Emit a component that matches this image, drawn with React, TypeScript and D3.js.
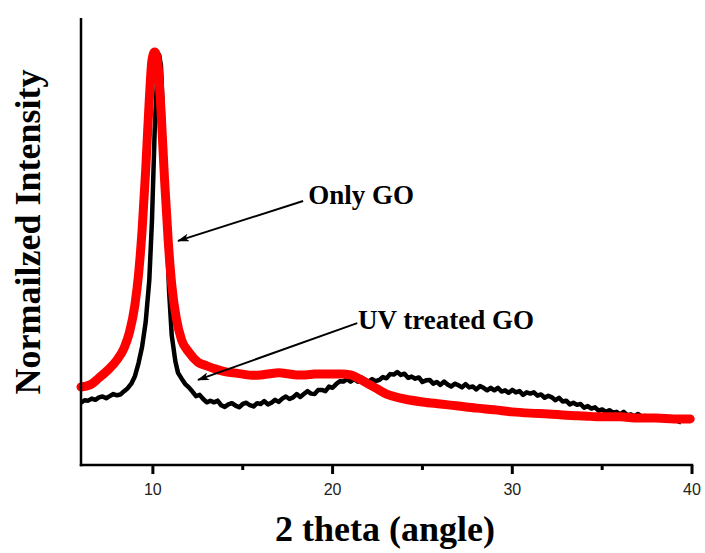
import * as d3 from "d3";

// 2 theta (deg) / normalized intensity
const uvTheta = [
  6.0, 6.2, 6.4, 6.6, 6.8, 7.0, 7.2, 7.4, 7.6, 7.8, 8.0, 8.2, 8.4, 8.6, 8.8, 9.0,
  9.2, 9.4, 9.6, 9.8, 9.95, 10.1, 10.25, 10.35, 10.45, 10.6, 10.75, 10.9, 11.05,
  11.25, 11.4, 11.6, 11.8, 12.0, 12.2, 12.4, 12.6, 12.8, 13.0, 13.2, 13.4, 13.6,
  13.8, 14.0, 14.2, 14.4, 14.6, 14.8, 15.0, 15.2, 15.4, 15.6, 15.8, 16.0, 16.2,
  16.4, 16.6, 16.8, 17.0, 17.2, 17.4, 17.6, 17.8, 18.0, 18.2, 18.4, 18.6, 18.8,
  19.0, 19.2, 19.4, 19.6, 19.8, 20.0, 20.2, 20.4, 20.6, 20.8, 21.0, 21.2, 21.4,
  21.6, 21.8, 22.0, 22.2, 22.4, 22.6, 22.8, 23.0, 23.2, 23.4, 23.6, 23.8, 24.0,
  24.2, 24.4, 24.6, 24.8, 25.0, 25.2, 25.4, 25.6, 25.8, 26.0, 26.2, 26.4, 26.6,
  26.8, 27.0, 27.2, 27.4, 27.6, 27.8, 28.0, 28.2, 28.4, 28.6, 28.8, 29.0, 29.2,
  29.4, 29.6, 29.8, 30.0, 30.2, 30.4, 30.6, 30.8, 31.0, 31.2, 31.4, 31.6, 31.8,
  32.0, 32.2, 32.4, 32.6, 32.8, 33.0, 33.2, 33.4, 33.6, 33.8, 34.0, 34.2, 34.4,
  34.6, 34.8, 35.0, 35.2, 35.4, 35.6, 35.8, 36.0, 36.2, 36.4, 36.6, 36.8, 37.0,
  37.2, 37.4, 37.6, 37.8, 38.0, 38.2, 38.4, 38.6, 38.8, 39.0, 39.2, 39.4,
];
const uvIntensity = [
  0.150, 0.156, 0.155, 0.160, 0.157, 0.163, 0.165, 0.161, 0.166, 0.171, 0.168,
  0.170, 0.178, 0.185, 0.196, 0.214, 0.245, 0.285, 0.345, 0.445, 0.590, 0.805,
  0.950, 0.988, 0.962, 0.805, 0.590, 0.420, 0.312, 0.250, 0.222, 0.208, 0.195,
  0.187, 0.177, 0.166, 0.169, 0.159, 0.151, 0.155, 0.151, 0.155, 0.144, 0.140,
  0.146, 0.149, 0.143, 0.139, 0.147, 0.150, 0.144, 0.141, 0.149, 0.147, 0.154,
  0.146, 0.150, 0.157, 0.152, 0.160, 0.165, 0.159, 0.163, 0.171, 0.164, 0.171,
  0.178, 0.172, 0.171, 0.181, 0.181, 0.178, 0.189, 0.186, 0.195, 0.202, 0.201,
  0.207, 0.201, 0.207, 0.201, 0.211, 0.206, 0.201, 0.207, 0.202, 0.205, 0.212,
  0.209, 0.219, 0.218, 0.224, 0.217, 0.220, 0.210, 0.213, 0.208, 0.211, 0.200,
  0.204, 0.205, 0.196, 0.200, 0.193, 0.201, 0.194, 0.189, 0.196, 0.192, 0.187,
  0.195, 0.187, 0.189, 0.182, 0.190, 0.186, 0.180, 0.186, 0.180, 0.186, 0.177,
  0.180, 0.174, 0.181, 0.175, 0.178, 0.169, 0.175, 0.172, 0.175, 0.167, 0.170,
  0.162, 0.167, 0.163, 0.156, 0.162, 0.153, 0.155, 0.146, 0.150, 0.145, 0.147,
  0.138, 0.142, 0.136, 0.139, 0.131, 0.134, 0.128, 0.132, 0.126, 0.128, 0.122,
  0.128, 0.120, 0.122, 0.117, 0.123, 0.116, 0.118, 0.113, 0.117, 0.113, 0.116,
  0.112, 0.115, 0.109, 0.112, 0.106, 0.103,
];

const goTheta = [
  6.0, 6.5, 7.0, 7.5, 8.0, 8.4, 8.7, 9.0, 9.2, 9.4, 9.6, 9.8, 9.95, 10.1, 10.25,
  10.45, 10.65, 10.85, 11.05, 11.3, 11.6, 12.0, 12.5, 13.0, 13.5, 14.0, 14.5,
  15.0, 15.5, 16.0, 16.5, 17.0, 17.5, 18.0, 18.5, 19.0, 19.5, 20.0, 20.5, 21.0,
  21.5, 22.0, 22.5, 23.0, 23.5, 24.0, 25.0, 26.0, 27.0, 28.0, 29.0, 30.0, 31.0,
  32.0, 33.0, 34.0, 35.0, 36.0, 37.0, 38.0, 39.0, 39.9,
];
const goIntensity = [
  0.188, 0.193, 0.210, 0.229, 0.253, 0.282, 0.320, 0.386, 0.458, 0.566, 0.711,
  0.880, 0.976, 0.995, 0.976, 0.855, 0.687, 0.542, 0.434, 0.354, 0.301, 0.272,
  0.248, 0.239, 0.231, 0.225, 0.222, 0.219, 0.216, 0.217, 0.220, 0.222, 0.220,
  0.217, 0.217, 0.219, 0.219, 0.219, 0.219, 0.217, 0.207, 0.195, 0.183, 0.171,
  0.164, 0.159, 0.152, 0.147, 0.142, 0.137, 0.133, 0.128, 0.125, 0.123, 0.120,
  0.118, 0.116, 0.116, 0.113, 0.113, 0.111, 0.111,
];

const majorTicks = [10, 20, 30, 40];
const minorTicks = [15, 25, 35];

const width = 705;
const height = 553;
const left = 81;
const right = 692;
const bottom = 465;
const axisTop = 18;

export default function App() {
  const x = d3.scaleLinear([6, 40], [left, right]);
  const y = d3.scaleLinear([0, 1], [bottom, 50]);

  const uvLine = d3
    .line<number>((_, i) => x(uvTheta[i]), (d) => y(d))
    .curve(d3.curveLinear);
  const goLine = d3
    .line<number>((_, i) => x(goTheta[i]), (d) => y(d))
    .curve(d3.curveMonotoneX);

  const serif = "'Liberation Serif', 'Times New Roman', serif";

  return (
    <svg
      width={width}
      height={height}
      style={{ position: "absolute", left: 0, top: 0, background: "#fff" }}
    >
      <defs>
        <marker
          id="head"
          viewBox="0 0 12 8"
          refX="11"
          refY="4"
          markerWidth="12"
          markerHeight="8"
          markerUnits="userSpaceOnUse"
          orient="auto"
        >
          <path d="M0,0 L12,4 L0,8 L3,4 Z" fill="#000" />
        </marker>
      </defs>

      {/* curves: black first, red on top */}
      <path
        d={uvLine(uvIntensity) ?? ""}
        fill="none"
        stroke="#000"
        strokeWidth={4.5}
        strokeLinejoin="round"
      />
      <path
        d={goLine(goIntensity) ?? ""}
        fill="none"
        stroke="#ff0000"
        strokeWidth={9}
        strokeLinejoin="round"
        strokeLinecap="round"
      />

      {/* axes */}
      <g stroke="#000" strokeWidth={2.5} fill="none">
        <line x1={left} x2={left} y1={axisTop} y2={bottom + 1.25} />
        <line x1={left - 1.25} x2={x(40) + 1.25} y1={bottom} y2={bottom} />
        {majorTicks.map((t) => (
          <line key={t} x1={x(t)} x2={x(t)} y1={bottom} y2={bottom + 9} strokeWidth={3} />
        ))}
        {minorTicks.map((t) => (
          <line key={t} x1={x(t)} x2={x(t)} y1={bottom} y2={bottom + 5} strokeWidth={3} />
        ))}
      </g>
      <g
        fontFamily="'Liberation Sans', Arial, sans-serif"
        fontSize={16}
        fill="#222"
        textAnchor="middle"
      >
        {majorTicks.map((t) => (
          <text key={t} x={x(t)} y={495}>
            {t}
          </text>
        ))}
      </g>

      {/* axis titles */}
      <text
        x={385}
        y={541}
        textAnchor="middle"
        fontFamily={serif}
        fontWeight="bold"
        fontSize={36}
      >
        2 theta (angle)
      </text>
      <text
        transform="translate(40,232) rotate(-90)"
        textAnchor="middle"
        fontFamily={serif}
        fontWeight="bold"
        fontSize={36}
      >
        Normailzed Intensity
      </text>

      {/* annotations */}
      <line
        x1={x(18.36)}
        y1={y(0.636)}
        x2={x(11.4)}
        y2={y(0.54)}
        stroke="#000"
        strokeWidth={2}
        markerEnd="url(#head)"
      />
      <text x={x(18.64)} y={y(0.629)} fontFamily={serif} fontWeight="bold" fontSize={27}>
        Only GO
      </text>
      <line
        x1={x(21.37)}
        y1={y(0.342)}
        x2={x(12.51)}
        y2={y(0.205)}
        stroke="#000"
        strokeWidth={2}
        markerEnd="url(#head)"
      />
      <text x={x(21.42)} y={y(0.328)} fontFamily={serif} fontWeight="bold" fontSize={27}>
        UV treated GO
      </text>
    </svg>
  );
}
